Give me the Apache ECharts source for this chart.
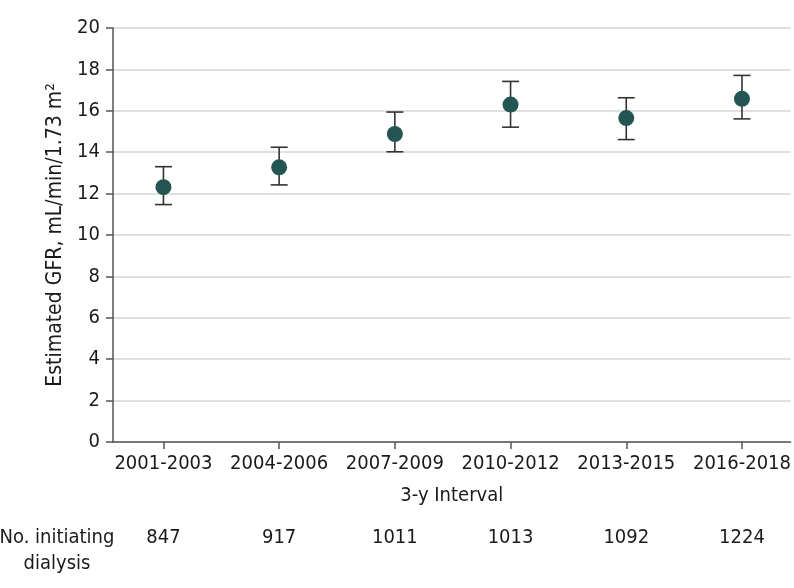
<!DOCTYPE html>
<html>
<head>
<meta charset="utf-8">
<script src="https://cdn.jsdelivr.net/npm/echarts@6/dist/echarts.min.js"></script>
<style>
html,body{margin:0;padding:0;background:#fff;}
#chart{width:794px;height:588px;}
</style>
</head>
<body>
<div id="chart"></div>
<script>
const categories = ['2001-2003','2004-2006','2007-2009','2010-2012','2013-2015','2016-2018'];
const meanGFR = [12.31, 13.27, 14.88, 16.30, 15.65, 16.58];
const lowerCI = [11.47, 12.42, 14.02, 15.21, 14.61, 15.61];
const upperCI = [13.30, 14.24, 15.94, 17.42, 16.63, 17.71];
const nDialysis = [847, 917, 1011, 1013, 1092, 1224];
const yTicks = {min: 0, max: 20, interval: 2};

const FONT = '"DejaVu Sans Condensed", "DejaVu Sans", sans-serif';
const TXT = '#1a1a1a';
const idx = categories.map((c, i) => i);

const chart = echarts.init(document.getElementById('chart'), null, {renderer: 'canvas'});
const option = {
  animation: false,
  backgroundColor: '#fff',
  grid: {left: 113, right: 2, top: 28, bottom: 146, containLabel: false},
  xAxis: [{
    type: 'value', min: -0.436, max: 5.42,
    axisLine: {show: true, onZero: false, lineStyle: {color: '#555', width: 1.5}},
    axisTick: {show: true, customValues: idx, length: 7, lineStyle: {color: '#555', width: 1.5}},
    axisLabel: {customValues: idx, formatter: v => categories[Math.round(v)], color: TXT, fontFamily: FONT, fontSize: 20, margin: 12},
    splitLine: {show: false},
    name: '3-y Interval', nameLocation: 'middle', nameGap: 44,
    nameTextStyle: {color: TXT, fontFamily: FONT, fontSize: 20}
  }, {
    type: 'value', min: -0.436, max: 5.42, position: 'bottom', offset: 76,
    axisLine: {show: false, onZero: false}, axisTick: {show: false}, splitLine: {show: false},
    axisLabel: {customValues: idx, formatter: v => String(nDialysis[Math.round(v)]), color: TXT, fontFamily: FONT, fontSize: 20, margin: 10}
  }],
  yAxis: {
    type: 'value', min: yTicks.min, max: yTicks.max, interval: yTicks.interval,
    axisLine: {show: true, onZero: false, lineStyle: {color: '#555', width: 1.5}},
    axisTick: {show: true, length: 7, lineStyle: {color: '#555', width: 1.5}},
    axisLabel: {color: TXT, fontFamily: FONT, fontSize: 20, margin: 13},
    splitLine: {show: true, lineStyle: {color: '#d6d6d6', width: 1.6}},
    name: 'Estimated GFR, mL/min/1.73 m²', nameLocation: 'middle', nameGap: 46,
    nameTextStyle: {color: TXT, fontFamily: FONT, fontSize: 21}
  },
  graphic: [{
    type: 'text', x: 57, y: 525,
    style: {text: 'No. initiating\ndialysis', fill: TXT, font: '20px ' + FONT, lineHeight: 26, align: 'center'}
  }],
  series: [{
    type: 'custom',
    data: idx.map(i => [i, lowerCI[i], upperCI[i]]),
    renderItem: function (params, api) {
      const x = api.value(0);
      const lo = api.coord([x, api.value(1)]);
      const hi = api.coord([x, api.value(2)]);
      const hw = 8.5;
      const st = {stroke: '#333', lineWidth: 1.6};
      return {type: 'group', children: [
        {type: 'line', shape: {x1: lo[0], y1: lo[1], x2: hi[0], y2: hi[1]}, style: st},
        {type: 'line', shape: {x1: lo[0]-hw, y1: lo[1], x2: lo[0]+hw, y2: lo[1]}, style: st},
        {type: 'line', shape: {x1: hi[0]-hw, y1: hi[1], x2: hi[0]+hw, y2: hi[1]}, style: st}
      ]};
    },
    z: 2
  }, {
    type: 'scatter',
    data: idx.map(i => [i, meanGFR[i]]),
    symbol: 'circle', symbolSize: 16,
    itemStyle: {color: '#235552', opacity: 1},
    z: 3
  }]
};
chart.setOption(option);
</script>
</body>
</html>
